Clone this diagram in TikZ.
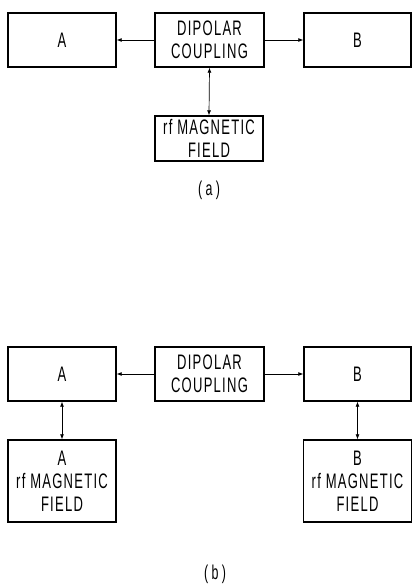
\documentclass[tikz,border=0pt]{standalone}
\usepackage{fontspec}
\setmainfont[FakeStretch=0.62,LetterSpace=6]{Liberation Sans}
\usetikzlibrary{arrows.meta}
\begin{document}
\begin{tikzpicture}[x=1pt,y=-1pt,
  box/.style={draw,line width=1.4pt,align=center,inner sep=0pt,
    font=\fontsize{21}{23}\selectfont},
  conn/.style={line width=0.7pt,{Latex[length=5pt,width=4pt]}-{Latex[length=5pt,width=4pt]}},
  single/.style={line width=0.7pt,-{Latex[length=5pt,width=4pt]}},
  caption/.style={inner sep=0pt,font=\fontsize{20}{22}\selectfont}]
\useasboundingbox (0,0) rectangle (412,584);
% (a)
\node[box,minimum width=108pt,minimum height=54pt] (aA) at (62,40) {A};
\node[box,minimum width=109pt,minimum height=54pt] (aD) at (209.5,40) {DIPOLAR\\COUPLING};
\node[box,minimum width=107pt,minimum height=54pt] (aB) at (357.5,40) {B};
\node[box,minimum width=108pt,minimum height=45pt] (aR) at (209,138.5) {rf MAGNETIC\\FIELD};
\draw[single] (aD.west) -- (aA.east);
\draw[single] (aD.east) -- (aB.west);
\draw[conn] (aD.south) -- (aR.north);
\node[caption] (la) at (209,190) {(\,a\,)};
% (b)
\node[box,minimum width=108pt,minimum height=54pt] (bA) at (62,374) {A};
\node[box,minimum width=109pt,minimum height=54pt] (bD) at (209.5,374) {DIPOLAR\\COUPLING};
\node[box,minimum width=107pt,minimum height=54pt] (bB) at (357.5,374) {B};
\node[box,minimum width=108pt,minimum height=82pt] (bRA) at (62,481) {A\\rf MAGNETIC\\FIELD};
\node[box,minimum width=108pt,minimum height=82pt] (bRB) at (357.5,481) {B\\rf MAGNETIC\\FIELD};
\draw[single] (bD.west) -- (bA.east);
\draw[single] (bD.east) -- (bB.west);
\draw[conn] (bA.south) -- (bRA.north);
\draw[conn] (bB.south) -- (bRB.north);
\node[caption] (lb) at (215,574) {(\,b\,)};
\end{tikzpicture}
\end{document}
